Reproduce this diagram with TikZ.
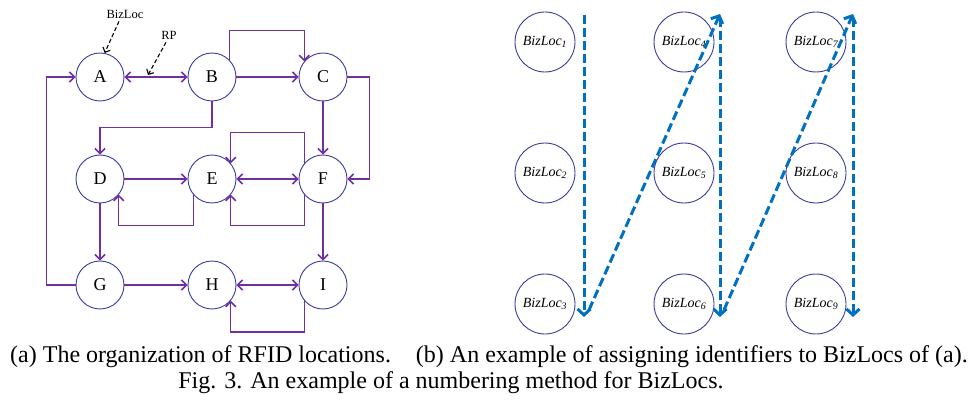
\documentclass[tikz,border=0pt]{standalone}
\usepackage{fontspec}
\setmainfont{Liberation Serif}
\usetikzlibrary{arrows.meta}
\definecolor{linkpurple}{HTML}{7030A0}
\definecolor{ringblue}{HTML}{3C3CA0}
\definecolor{pathblue}{HTML}{0070C0}

\begin{document}
\begin{tikzpicture}[x=1pt,y=-1pt,
  loc/.style={circle, draw=ringblue, line width=0.9pt, minimum size=48pt, inner sep=0pt,
    font=\fontsize{18}{20}\selectfont},
  biz/.style={circle, draw=ringblue, line width=0.9pt, minimum size=60pt, inner sep=0pt,
    font=\fontsize{14}{16}\selectfont\itshape},
  barb/.tip={Straight Barb[length=5pt,width=10pt]},
  link/.style={draw=linkpurple, line width=1.5pt, -barb},
  duallink/.style={draw=linkpurple, line width=1.5pt, barb-barb},
  note/.style={font=\fontsize{12.5}{14}\selectfont, inner sep=1pt},
  notearrow/.style={draw=black, line width=1.1pt, dash pattern=on 4pt off 2.5pt,
    -{Straight Barb[length=4pt,width=8pt]}},
  order/.style={draw=pathblue, line width=3pt, dash pattern=on 9pt off 4pt,
    -{Straight Barb[length=6pt,width=13pt]}},
  captext/.style={font=\fontsize{24}{26}\selectfont, inner sep=0pt}]

\fill[white] (0,0) rectangle (978,401);
\useasboundingbox (0,0) rectangle (978,401);

% ---- (a) RFID locations and their connections ----
\node[loc] (A) at (100,77) {A};
\node[loc] (B) at (212,77) {B};
\node[loc] (C) at (323,77) {C};
\node[loc] (D) at (100,179) {D};
\node[loc] (E) at (212,179) {E};
\node[loc] (F) at (323,179) {F};
\node[loc] (G) at (100,285) {G};
\node[loc] (H) at (212,285) {H};
\node[loc] (I) at (323,285) {I};

\draw[duallink] (A) -- (B);
\draw[link] (B) -- (C);
\draw[link] (B.45) -- ++(0,-29) -| (C.140);
\draw[link] (C) -- (F);
\draw[link] (C.east) -- ++(22,0) |- (F.east);
\draw[link] (B.south) -- ++(0,26) -| (D.north);
\draw[link] (G.west) -- ++(-29,0) |- (A.west);
\draw[link] (D) -- (E);
\draw[duallink] (E) -- (F);
\draw[link] (F.140) -- ++(0,-31) -| (E.40);
\draw[link] (E.220) -- ++(0,31) -| (D.320);
\draw[link] (F.220) -- ++(0,31) -| (E.320);
\draw[link] (D) -- (G);
\draw[link] (F) -- (I);
\draw[link] (G) -- (H);
\draw[duallink] (H) -- (I);
\draw[link] (I.220) -- ++(0,31.5) -| (H.320);

% annotations
\node[note] (bizlbl) at (125,14) {BizLoc};
\node[note] (rplbl) at (169,35) {RP};
\coordinate (rpmark) at (148,75);
\draw[notearrow] ([xshift=-6pt,yshift=-2pt]bizlbl.south) -- (A.79);
\draw[notearrow] ([xshift=-3pt,yshift=-2pt]rplbl.south) -- (rpmark);

% ---- (b) numbering of BizLocs ----
\node[biz] (L1) at (545,42)  {BizLoc\textsubscript{1}};
\node[biz] (L2) at (545,173) {BizLoc\textsubscript{2}};
\node[biz] (L3) at (545,304) {BizLoc\textsubscript{3}};
\node[biz] (L4) at (684,42)  {BizLoc\textsubscript{4}};
\node[biz] (L5) at (684,173) {BizLoc\textsubscript{5}};
\node[biz] (L6) at (684,304) {BizLoc\textsubscript{6}};
\node[biz] (L7) at (816,42)  {BizLoc\textsubscript{7}};
\node[biz] (L8) at (816,173) {BizLoc\textsubscript{8}};
\node[biz] (L9) at (816,304) {BizLoc\textsubscript{9}};

\coordinate (top1) at (584,15);
\coordinate (bot1) at (584,317);
\coordinate (rise1) at (589,310);
\coordinate (top2) at (720,14);
\coordinate (start2) at (720,18);
\coordinate (bot2) at (720,317);
\coordinate (rise2) at (724,310);
\coordinate (top3) at (853,14);
\coordinate (start3) at (853,18);
\coordinate (bot3) at (853,317);

\draw[order] (top1) -- (bot1);
\draw[order] (rise1) -- (top2);
\draw[order] (start2) -- (bot2);
\draw[order] (rise2) -- (top3);
\draw[order] (start3) -- (bot3);

% ---- captions ----
\node[captext, anchor=base west] (capa) at (10,362) {(a) The organization of RFID locations.};
\node[captext, anchor=base east] (capb) at (968,362) {(b) An example of assigning identifiers to BizLocs of (a).};
\node[captext, anchor=base] (capfig) at (451,388) {Fig. 3. An example of a numbering method for BizLocs.};
\end{tikzpicture}
\end{document}
